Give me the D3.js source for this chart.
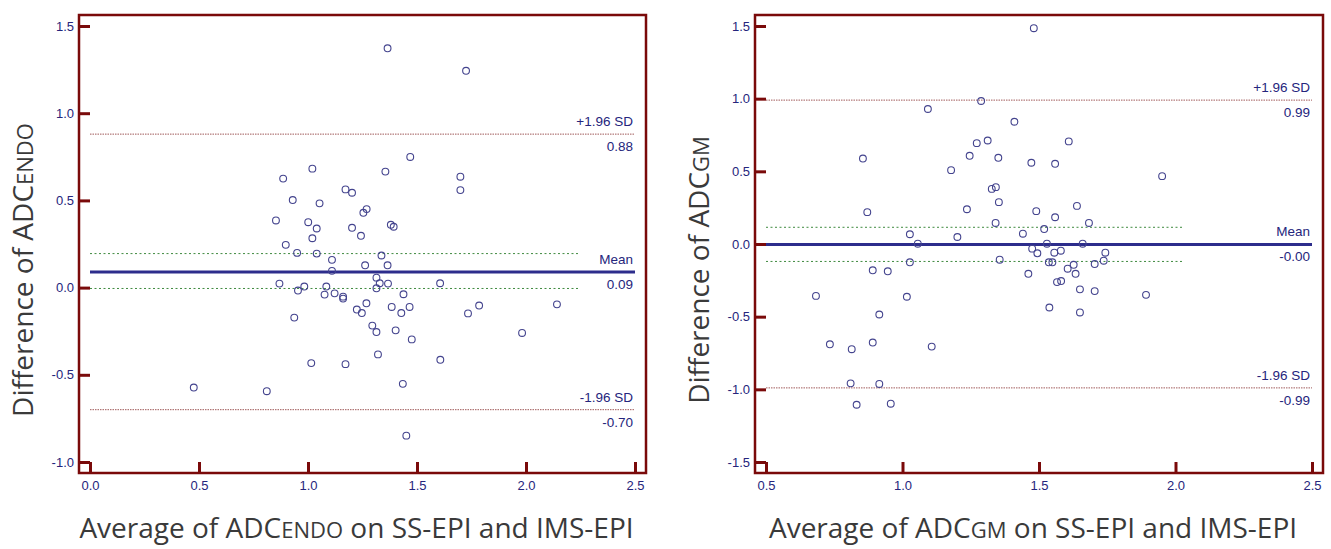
<!DOCTYPE html>
<html>
<head>
<meta charset="utf-8">
<script src="https://cdn.jsdelivr.net/npm/d3@7"></script>
<style>
  body { margin: 0; background: #fff; }
  svg { display: block; }
</style>
</head>
<body>
<div id="chart"></div>
<script>
// ADC endo: average (x) and difference (y) of SS-EPI vs IMS-EPI
const endoAvg = [1.365, 1.725, 1.469, 1.020, 0.886, 1.355, 1.699, 1.699, 1.172, 1.202,
  0.930, 1.053, 1.269, 1.254, 0.853, 1.001, 1.040, 1.380, 1.393, 1.202,
  1.243, 1.020, 0.898, 0.950, 1.040, 1.337, 1.110, 1.262, 1.365, 1.110,
  1.314, 1.329, 1.367, 0.869, 0.983, 0.954, 1.084, 1.314, 1.076, 1.122,
  1.161, 1.161, 1.438, 1.606, 1.268, 1.224, 1.247, 1.384, 1.428, 1.466,
  1.734, 1.785, 2.142, 0.937, 1.295, 1.314, 1.402, 1.476, 1.982, 1.321,
  1.015, 1.172, 1.607, 0.811, 0.476, 1.435, 1.451];
const endoDiff = [1.372, 1.243, 0.749, 0.682, 0.625, 0.665, 0.636, 0.559, 0.563, 0.544,
  0.502, 0.483, 0.450, 0.429, 0.385, 0.375, 0.339, 0.360, 0.349, 0.343,
  0.297, 0.283, 0.245, 0.199, 0.195, 0.184, 0.159, 0.128, 0.128, 0.096,
  0.057, 0.025, 0.023, 0.023, 0.006, -0.017, 0.006, -0.004, -0.040, -0.033,
  -0.052, -0.063, -0.038, 0.025, -0.090, -0.126, -0.146, -0.111, -0.146, -0.111,
  -0.148, -0.103, -0.096, -0.172, -0.218, -0.255, -0.245, -0.297, -0.260, -0.383,
  -0.433, -0.439, -0.414, -0.594, -0.573, -0.552, -0.849];
// mean, upper LoA, lower LoA, CI of mean (low, high), CI line end
const endoStats = [0.09, 0.88, -0.70, -0.005, 0.195, 2.24];

// ADC GM
const gmAvg = [1.481, 1.288, 1.093, 1.410, 1.272, 1.312, 1.609, 1.246, 1.351, 0.855,
  1.472, 1.559, 1.178, 1.951, 1.327, 1.342, 1.353, 1.639, 1.236, 0.871,
  1.490, 1.559, 1.341, 1.683, 1.519, 1.441, 1.027, 1.201, 1.056, 1.529,
  1.660, 1.475, 1.494, 1.556, 1.580, 1.743, 1.027, 1.356, 1.536, 1.549,
  1.737, 1.704, 1.627, 1.605, 1.634, 1.461, 0.891, 0.946, 1.566, 1.581,
  1.650, 1.704, 1.892, 0.683, 1.016, 1.538, 1.650, 0.915, 0.734, 0.814,
  0.891, 1.107, 0.810, 0.915, 0.832, 0.957];
const gmDiff = [1.485, 0.984, 0.929, 0.841, 0.694, 0.712, 0.706, 0.607, 0.593, 0.588,
  0.559, 0.552, 0.508, 0.467, 0.379, 0.391, 0.288, 0.262, 0.239, 0.219,
  0.226, 0.184, 0.145, 0.145, 0.103, 0.071, 0.067, 0.048, 0.002, 0.002,
  0.002, -0.032, -0.064, -0.060, -0.046, -0.060, -0.126, -0.108, -0.126, -0.126,
  -0.115, -0.138, -0.143, -0.170, -0.205, -0.205, -0.181, -0.188, -0.262, -0.255,
  -0.312, -0.324, -0.350, -0.357, -0.363, -0.437, -0.471, -0.485, -0.690, -0.724,
  -0.678, -0.706, -0.959, -0.963, -1.106, -1.099];
const gmStats = [-0.003, 0.99, -0.99, -0.12, 0.115, 2.03];

const endoXTicks = [0.0, 0.5, 1.0, 1.5, 2.0, 2.5];
const endoYTicks = [-1.0, -0.5, 0.0, 0.5, 1.0, 1.5];
const gmXTicks = [0.5, 1.0, 1.5, 2.0, 2.5];
const gmYTicks = [-1.5, -1.0, -0.5, 0.0, 0.5, 1.0, 1.5];

const W = 1331, H = 549;
const frameCol = "#7a0a0a", navy = "#25257c", titleCol = "#3a3a3a";
const numFont = "'Liberation Sans', Arial, sans-serif";
const titleFont = "'Open Sans', 'Noto Sans', sans-serif";

const svg = d3.select("#chart").append("svg")
  .attr("width", W).attr("height", H);

function drawPanel(p) {
  const pad = 11;
  const x = d3.scaleLinear().domain(d3.extent(p.xTicks)).range([p.left + pad, p.right - pad]);
  const y = d3.scaleLinear().domain(d3.extent(p.yTicks)).range([p.bottom - pad, p.top + pad]);
  const g = svg.append("g");
  const [mean, upper, lower, ciLo, ciHi, ciEnd] = p.stats;
  const x0 = x.domain()[0], x1 = x.domain()[1];

  // CI of mean (green dotted)
  [ciLo, ciHi].forEach(v => {
    g.append("line")
      .attr("x1", x(x0)).attr("x2", x(ciEnd))
      .attr("y1", y(v)).attr("y2", y(v))
      .attr("stroke", "#3f8a3f").attr("stroke-width", 1)
      .attr("stroke-dasharray", "2,2.5");
  });

  // limits of agreement
  [upper, lower].forEach(v => {
    g.append("line")
      .attr("x1", x(x0)).attr("x2", x(x1))
      .attr("y1", y(v)).attr("y2", y(v))
      .attr("stroke", "#a05a5a").attr("stroke-width", 1)
      .attr("stroke-dasharray", "1.5,1");
  });

  // mean
  g.append("line")
    .attr("x1", x(x0)).attr("x2", x(x1))
    .attr("y1", y(mean)).attr("y2", y(mean))
    .attr("stroke", "#2d2d8c").attr("stroke-width", 3);

  // line labels
  const labels = [
    { v: upper, top: "+1.96 SD" },
    { v: mean, top: "Mean" },
    { v: lower, top: "-1.96 SD" }
  ];
  labels.forEach(d => {
    g.append("text")
      .attr("x", x(x1) - 2).attr("y", y(d.v) - 8)
      .attr("text-anchor", "end")
      .attr("font-family", numFont).attr("font-size", 13.5)
      .attr("fill", navy)
      .text(d.top);
    g.append("text")
      .attr("x", x(x1) - 2).attr("y", y(d.v) + 17)
      .attr("text-anchor", "end")
      .attr("font-family", numFont).attr("font-size", 13.5)
      .attr("fill", navy)
      .text(d.v.toFixed(2));
  });

  // points
  g.selectAll("circle.pt")
    .data(p.xs.map((v, i) => [v, p.ys[i]]))
    .enter().append("circle")
    .attr("class", "pt")
    .attr("cx", d => x(d[0]))
    .attr("cy", d => y(d[1]))
    .attr("r", 3.4)
    .attr("fill", "none")
    .attr("stroke", "#44448e")
    .attr("stroke-width", 1.1);

  // frame
  g.append("rect")
    .attr("x", p.left).attr("y", p.top)
    .attr("width", p.right - p.left).attr("height", p.bottom - p.top)
    .attr("fill", "none").attr("stroke", frameCol).attr("stroke-width", 2.5);

  // axes: ticks pointing inward
  const fmt = d => d.toFixed(1);
  const ya = g.append("g")
    .attr("transform", `translate(${p.left},0)`)
    .call(d3.axisLeft(y).tickValues(p.yTicks).tickFormat(fmt).tickSize(-11).tickSizeOuter(0).tickPadding(5));
  const xa = g.append("g")
    .attr("transform", `translate(0,${p.bottom})`)
    .call(d3.axisBottom(x).tickValues(p.xTicks).tickFormat(fmt).tickSize(-11).tickSizeOuter(0).tickPadding(8));
  [ya, xa].forEach(a => {
    a.select(".domain").remove();
    a.selectAll(".tick line").attr("stroke", frameCol).attr("stroke-width", 3);
    a.selectAll(".tick text")
      .attr("fill", navy)
      .attr("font-family", numFont)
      .attr("font-size", 13);
  });

  // axis titles
  const cx = (p.left + p.right) / 2 - 6;
  const xt = g.append("text")
    .attr("x", cx).attr("y", 538)
    .attr("text-anchor", "middle")
    .attr("font-family", titleFont).attr("font-size", 28)
    .attr("fill", titleCol);
  xt.append("tspan").text("Average of ADC");
  xt.append("tspan").attr("font-size", 22).text(p.sub);
  xt.append("tspan").text(" on SS-EPI and IMS-EPI");

  const yt = g.append("text")
    .attr("transform", `translate(${p.left - 46},270) rotate(-90)`)
    .attr("text-anchor", "middle")
    .attr("font-family", titleFont).attr("font-size", 28)
    .attr("fill", titleCol);
  yt.append("tspan").text("Difference of ADC");
  yt.append("tspan").attr("font-size", 22).text(p.sub);
}

drawPanel({
  left: 79, right: 646, top: 15, bottom: 473,
  xTicks: endoXTicks, yTicks: endoYTicks,
  xs: endoAvg, ys: endoDiff, stats: endoStats, sub: "ENDO"
});

drawPanel({
  left: 755, right: 1323, top: 15, bottom: 473,
  xTicks: gmXTicks, yTicks: gmYTicks,
  xs: gmAvg, ys: gmDiff, stats: gmStats, sub: "GM"
});
</script>
</body>
</html>
